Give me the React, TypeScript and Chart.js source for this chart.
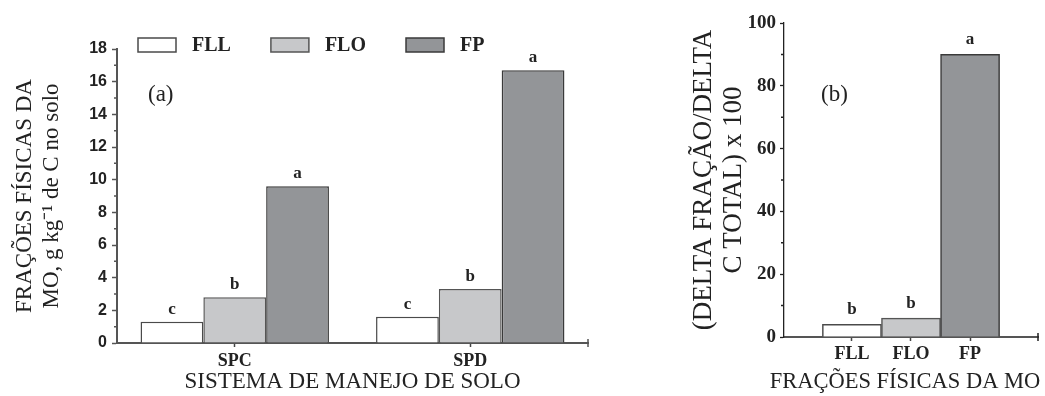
import { useEffect, useRef } from 'react';
import { Chart, registerables } from 'chart.js';

Chart.register(...registerables);

const SERIF = '"Liberation Serif", "Times New Roman", serif';
const SANS = '"Liberation Sans", Arial, sans-serif';

// ---- Panel (a) data ----
const systems = ['SPC', 'SPD'];
const seriesNames = ['FLL', 'FLO', 'FP'];
const fllValues = [1.3, 1.6];
const floValues = [2.8, 3.3];
const fpValues = [9.6, 16.7];
const fllLetters = ['c', 'c'];
const floLetters = ['b', 'b'];
const fpLetters = ['a', 'a'];
const yTicksA = [0, 2, 4, 6, 8, 10, 12, 14, 16, 18];

// ---- Panel (b) data ----
const fractions = ['FLL', 'FLO', 'FP'];
const deltaValues = [4, 6, 90];
const deltaLetters = ['b', 'b', 'a'];
const yTicksB = [0, 20, 40, 60, 80, 100];

const fills = ['#ffffff', '#c7c8ca', '#939598'];
const borders = ['#4a4a4a', '#555555', '#3a3a3a'];
const TEXT = '#222222';

function midpoints(t: number[]) {
  return t.slice(1).map((v, i) => (v + t[i]) / 2);
}

function letterPlugin(letters: string[][], gap: number) {
  return {
    id: 'letters',
    afterDatasetsDraw(chart: any) {
      const ctx = chart.ctx;
      ctx.save();
      ctx.font = `bold 17px ${SERIF}`;
      ctx.fillStyle = TEXT;
      ctx.textAlign = 'center';
      ctx.textBaseline = 'alphabetic';
      chart.data.datasets.forEach((_ds: any, di: number) => {
        const meta = chart.getDatasetMeta(di);
        meta.data.forEach((el: any, i: number) => {
          const t = letters[di] && letters[di][i];
          if (t) ctx.fillText(t, el.x, el.y - gap);
        });
      });
      ctx.restore();
    },
  };
}

function axisExtras(minor: number[], minorLen: number, color: string) {
  return {
    id: 'axisExtras',
    afterDraw(chart: any) {
      const ctx = chart.ctx;
      const ca = chart.chartArea;
      const y = chart.scales.y;
      ctx.save();
      ctx.strokeStyle = color;
      ctx.lineWidth = 1.5;
      ctx.beginPath();
      minor.forEach((v) => {
        const py = y.getPixelForValue(v);
        ctx.moveTo(ca.left - minorLen, py);
        ctx.lineTo(ca.left, py);
      });
      ctx.moveTo(ca.right, ca.bottom - 4);
      ctx.lineTo(ca.right, ca.bottom + 4);
      ctx.stroke();
      ctx.restore();
    },
  };
}

function panelLabel(text: string, dx: number, dy: number) {
  return {
    id: 'panelLabel',
    afterDraw(chart: any) {
      const ctx = chart.ctx;
      const ca = chart.chartArea;
      ctx.save();
      ctx.font = `23px ${SERIF}`;
      ctx.fillStyle = TEXT;
      ctx.textAlign = 'left';
      ctx.textBaseline = 'middle';
      ctx.fillText(text, ca.left + dx, ca.top + dy);
      ctx.restore();
    },
  };
}

const legendPlugin = {
  id: 'customLegend',
  afterDraw(chart: any) {
    const ctx = chart.ctx;
    const ca = chart.chartArea;
    ctx.save();
    ctx.font = `bold 20px ${SERIF}`;
    ctx.textBaseline = 'middle';
    ctx.textAlign = 'left';
    let x = ca.left + 21;
    const by = ca.top - 11;
    const bw = 38;
    const bh = 14;
    chart.data.datasets.forEach((ds: any) => {
      ctx.fillStyle = ds.backgroundColor;
      ctx.fillRect(x, by, bw, bh);
      ctx.strokeStyle = ds.borderColor;
      ctx.lineWidth = 1.5;
      ctx.strokeRect(x, by, bw, bh);
      ctx.fillStyle = TEXT;
      const tx = x + bw + 16;
      ctx.fillText(ds.label, tx, by + bh / 2 + 1);
      x = tx + ctx.measureText(ds.label).width + 40;
    });
    ctx.restore();
  },
};

const xTitleB = {
  id: 'xTitleB',
  afterDraw(chart: any) {
    const ctx = chart.ctx;
    const ca = chart.chartArea;
    ctx.save();
    ctx.font = `22.5px ${SERIF}`;
    ctx.fillStyle = TEXT;
    ctx.textAlign = 'center';
    ctx.textBaseline = 'middle';
    ctx.fillText('FRAÇÕES FÍSICAS DA MO', (ca.left + ca.right) / 2 - 6, chart.height - 14);
    ctx.restore();
  },
};

export default function App() {
  const refA = useRef<HTMLCanvasElement>(null);
  const refB = useRef<HTMLCanvasElement>(null);

  useEffect(() => {
    if (!refA.current || !refB.current) return;

    const seriesValues = [fllValues, floValues, fpValues];
    const chartA = new Chart(refA.current, {
      type: 'bar',
      data: {
        labels: systems,
        datasets: seriesNames.map((name, i) => ({
          label: name,
          data: seriesValues[i],
          backgroundColor: fills[i],
          borderColor: borders[i],
          borderWidth: 1.5,
          categoryPercentage: 0.8,
          barPercentage: 1,
        })),
      },
      options: {
        responsive: false,
        animation: false,
        devicePixelRatio: 1,
        layout: { padding: { top: 49, right: 52, bottom: 0, left: 0 } },
        plugins: { legend: { display: false }, tooltip: { enabled: false } },
        scales: {
          x: {
            grid: { display: true, drawOnChartArea: false, offset: false, tickLength: 4, tickColor: '#444', tickWidth: 1.5 },
            border: { color: '#555', width: 2 },
            ticks: { font: { family: SERIF, size: 18, weight: 'bold' }, color: TEXT, padding: 4 },
            title: {
              display: true,
              text: 'SISTEMA DE MANEJO DE SOLO',
              font: { family: SERIF, size: 23 },
              color: TEXT,
              padding: { top: 0, bottom: 0 },
            },
            afterFit: (s: any) => { s.height = 53; },
          },
          y: {
            min: yTicksA[0],
            max: yTicksA[yTicksA.length - 1],
            afterBuildTicks: (s: any) => { s.ticks = yTicksA.map((v) => ({ value: v })); },
            ticks: { font: { family: SANS, size: 16, weight: 'bold' }, color: TEXT, padding: 5 },
            grid: { drawOnChartArea: false, tickLength: 5, tickColor: '#555', tickWidth: 1.5 },
            border: { color: '#555', width: 2 },
            title: {
              display: true,
              text: ['FRAÇÕES FÍSICAS DA', 'MO, g kg⁻¹ de C no solo'],
              font: { family: SERIF, size: 23 },
              color: TEXT,
              padding: { top: 11, bottom: 0 },
            },
            afterFit: (s: any) => { s.width = 117; },
          },
        },
      } as any,
      plugins: [
        letterPlugin([fllLetters, floLetters, fpLetters], 8),
        axisExtras(midpoints(yTicksA), 3, '#555'),
        panelLabel('(a)', 31, 46),
        legendPlugin,
      ],
    });

    const chartB = new Chart(refB.current, {
      type: 'bar',
      data: {
        datasets: [
          {
            label: 'delta',
            data: fractions.map((_f, i) => ({ x: i + 1, y: deltaValues[i] })),
            backgroundColor: fills,
            borderColor: borders,
            borderWidth: 1.5,
            categoryPercentage: 1,
            barPercentage: 1,
          },
        ],
      },
      options: {
        responsive: false,
        animation: false,
        devicePixelRatio: 1,
        layout: { padding: { top: 23, right: 7, bottom: 0, left: 0 } },
        plugins: { legend: { display: false }, tooltip: { enabled: false } },
        scales: {
          x: {
            type: 'linear',
            offset: false,
            min: -0.15,
            max: 4.15,
            afterBuildTicks: (s: any) => { s.ticks = fractions.map((_f, i) => ({ value: i + 1 })); },
            grid: { display: true, offset: false, drawOnChartArea: false, tickLength: 4, tickColor: '#444', tickWidth: 1.5 },
            border: { color: '#555', width: 2 },
            ticks: {
              autoSkip: false,
              callback: (v: any) => fractions[Math.round(Number(v)) - 1] ?? '',
              font: { family: SERIF, size: 18, weight: 'bold' },
              color: TEXT,
              padding: 3,
            },
            afterFit: (s: any) => { s.height = 59; },
          },
          y: {
            min: yTicksB[0],
            max: yTicksB[yTicksB.length - 1],
            afterBuildTicks: (s: any) => { s.ticks = yTicksB.map((v) => ({ value: v })); },
            ticks: { font: { family: SERIF, size: 19, weight: 'bold' }, color: TEXT, padding: 4 },
            grid: { drawOnChartArea: false, tickLength: 4, tickColor: '#222', tickWidth: 1.3 },
            border: { color: '#222', width: 1.3 },
            title: {
              display: true,
              text: ['(DELTA FRAÇÃO/DELTA', 'C TOTAL) x 100'],
              font: { family: SERIF, size: 27, lineHeight: 1.1 },
              color: TEXT,
              padding: { top: 29, bottom: 0 },
            },
            afterFit: (s: any) => { s.width = 124; },
          },
        },
      } as any,
      plugins: [
        letterPlugin([deltaLetters], 10),
        axisExtras(midpoints(yTicksB), 3, '#222'),
        panelLabel('(b)', 37, 72),
        xTitleB,
      ],
    });

    return () => {
      chartA.destroy();
      chartB.destroy();
    };
  }, []);

  return (
    <>
      <canvas ref={refA} width={640} height={396} style={{ position: 'absolute', left: 0, top: 0 }} />
      <canvas ref={refB} width={385} height={396} style={{ position: 'absolute', left: 660, top: 0 }} />
    </>
  );
}
